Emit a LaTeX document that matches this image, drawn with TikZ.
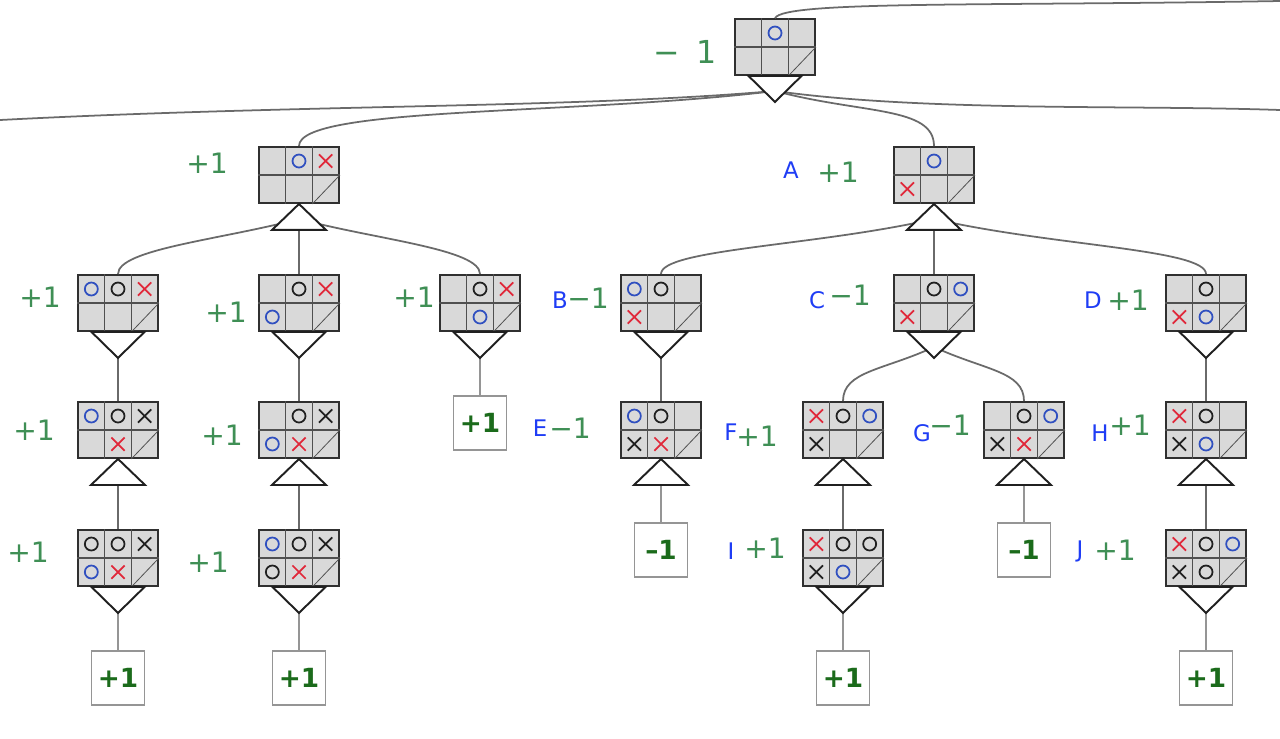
\documentclass[tikz,border=0pt]{standalone}
\usepackage{fontspec}
\setmainfont{DejaVu Sans}
\usetikzlibrary{shapes.misc}

\definecolor{boardgray}{HTML}{D9D9D9}
\definecolor{boardline}{HTML}{303030}
\definecolor{gridline}{HTML}{505050}
\definecolor{edgegray}{HTML}{6A6A6A}
\definecolor{leafgray}{HTML}{959595}
\definecolor{leafgreen}{HTML}{1B6B1B}
\definecolor{handgreen}{HTML}{3F8F55}
\definecolor{tagblue}{HTML}{1F3DF5}
\definecolor{oblue}{HTML}{3050C0}
\definecolor{xred}{HTML}{E0283A}
\definecolor{markblack}{HTML}{202020}

\tikzset{
  board/.style={draw=boardline, fill=boardgray, line width=1.1pt,
    minimum width=1.6cm, minimum height=1.12cm, inner sep=0pt},
  cell/.style={draw=gridline, line width=0.6pt},
  ob/.style={circle, draw=oblue, line width=1pt, minimum size=0.26cm, inner sep=0pt},
  ok/.style={circle, draw=markblack, line width=1pt, minimum size=0.26cm, inner sep=0pt},
  xr/.style={cross out, draw=xred, line width=1pt, minimum size=0.23cm, inner sep=0pt},
  xk/.style={cross out, draw=markblack, line width=1pt, minimum size=0.23cm, inner sep=0pt},
  nomark/.style={inner sep=0pt},
  edge/.style={draw=edgegray, line width=1pt},
  leafedge/.style={draw=leafgray, line width=1pt},
  tri/.style={draw=markblack, fill=white, line width=1.1pt},
  leaf/.style={draw=leafgray, fill=white, line width=1.1pt, minimum width=1.06cm,
    minimum height=1.08cm, inner sep=0pt, text=leafgreen,
    font=\fontsize{15}{15}\selectfont\bfseries},
  val/.style={text=handgreen, font=\fontsize{16}{16}\selectfont},
  tag/.style={text=tagblue, font=\fontsize{13}{13}\selectfont},
}

% board: name, position, top row (3 cells), bottom row (2 cells)
\newcommand{\tttboard}[7]{%
  \node[board] (#1) at (#2) {};
  \draw[cell] ([xshift=-0.2667cm]#1.north) -- ([xshift=-0.2667cm]#1.south)
    ([xshift=0.2667cm]#1.north) -- ([xshift=0.2667cm]#1.south)
    (#1.west) -- (#1.east);
  \draw[cell, line width=0.45pt] ([xshift=0.2667cm]#1.south) -- (#1.east);
  \node[#3] (#1-1) at ([shift={(-0.5333cm,0.28cm)}]#1) {};
  \node[#4] (#1-2) at ([shift={(0cm,0.28cm)}]#1) {};
  \node[#5] (#1-3) at ([shift={(0.5333cm,0.28cm)}]#1) {};
  \node[#6] (#1-4) at ([shift={(-0.5333cm,-0.28cm)}]#1) {};
  \node[#7] (#1-5) at ([shift={(0cm,-0.28cm)}]#1) {};
  \coordinate (#1-v) at ([yshift=-0.3cm]#1.south);
}
\newcommand{\minmark}[1]{\draw[tri] ([xshift=-0.53cm]#1.south) -- ([xshift=0.53cm]#1.south)
  -- ([yshift=-0.52cm]#1.south) -- cycle;}
\newcommand{\maxmark}[1]{\draw[tri] (#1.south) -- ([shift={(0.54cm,-0.52cm)}]#1.south)
  -- ([shift={(-0.54cm,-0.52cm)}]#1.south) -- cycle;}

\begin{document}
\begin{tikzpicture}[x=0.02cm, y=0.02cm]
\fill[white] (0,0) rectangle (1280,-738);
\useasboundingbox (0,0) rectangle (1280,-738);

% boards
\tttboard{root}{775,-47}{nomark}{ob}{nomark}{nomark}{nomark}
\tttboard{n1}{299,-175}{nomark}{ob}{xr}{nomark}{nomark}
\tttboard{A}{934,-175}{nomark}{ob}{nomark}{xr}{nomark}
\tttboard{n11}{118,-303}{ob}{ok}{xr}{nomark}{nomark}
\tttboard{n12}{299,-303}{nomark}{ok}{xr}{ob}{nomark}
\tttboard{n13}{480,-303}{nomark}{ok}{xr}{nomark}{ob}
\tttboard{B}{661,-303}{ob}{ok}{nomark}{xr}{nomark}
\tttboard{C}{934,-303}{nomark}{ok}{ob}{xr}{nomark}
\tttboard{D}{1206,-303}{nomark}{ok}{nomark}{xr}{ob}
\tttboard{n111}{118,-430}{ob}{ok}{xk}{nomark}{xr}
\tttboard{n121}{299,-430}{nomark}{ok}{xk}{ob}{xr}
\tttboard{E}{661,-430}{ob}{ok}{nomark}{xk}{xr}
\tttboard{F}{843,-430}{xr}{ok}{ob}{xk}{nomark}
\tttboard{G}{1024,-430}{nomark}{ok}{ob}{xk}{xr}
\tttboard{H}{1206,-430}{xr}{ok}{nomark}{xk}{ob}
\tttboard{n1111}{118,-558}{ok}{ok}{xk}{ob}{xr}
\tttboard{n1211}{299,-558}{ob}{ok}{xk}{ok}{xr}
\tttboard{I}{843,-558}{xr}{ok}{ok}{xk}{ob}
\tttboard{J}{1206,-558}{xr}{ok}{ob}{xk}{ok}

% leaves
\node[leaf] (t13) at (480,-423) {+1};
\node[leaf] (tE) at (661,-550) {–1};
\node[leaf] (tG) at (1024,-550) {–1};
\node[leaf] (t1111) at (118,-678) {+1};
\node[leaf] (t1211) at (299,-678) {+1};
\node[leaf] (tI) at (843,-678) {+1};
\node[leaf] (tJ) at (1206,-678) {+1};

% off-picture siblings
\coordinate (offL) at (0,-120);
\coordinate (offR) at (1280,-110);
\coordinate (offT) at (1280,-1);

% edges
\draw[edge] (root.north) to[out=60,in=181,out distance=0.4cm,in distance=6cm] (offT);
\draw[edge] (root-v) to[out=185,in=3,out distance=4cm,in distance=6cm] (offL);
\draw[edge] (root-v) to[out=-8,in=178,out distance=3cm,in distance=3cm] (offR);
\draw[edge] (root-v) to[out=187,in=90,out distance=4cm,in distance=0.8cm] (n1.north);
\draw[edge] (root-v) to[out=-15,in=90,out distance=1.8cm,in distance=0.8cm] (A.north);
\draw[edge] (n1-v) to[out=195,in=90,out distance=1.6cm,in distance=0.5cm] (n11.north);
\draw[edge] (n1-v) -- (n12.north);
\draw[edge] (n1-v) to[out=-15,in=90,out distance=1.6cm,in distance=0.5cm] (n13.north);
\draw[edge] (A-v) to[out=193,in=90,out distance=2.4cm,in distance=0.5cm] (B.north);
\draw[edge] (A-v) -- (C.north);
\draw[edge] (A-v) to[out=-13,in=90,out distance=2.4cm,in distance=0.5cm] (D.north);
\draw[edge] (n11-v) -- (n111.north);
\draw[edge] (n12-v) -- (n121.north);
\draw[leafedge] (n13-v) -- (t13.north);
\draw[edge] (B-v) -- (E.north);
\draw[edge] (C-v) to[out=205,in=90,out distance=1.1cm,in distance=0.6cm] (F.north);
\draw[edge] (C-v) to[out=-25,in=90,out distance=1.1cm,in distance=0.6cm] (G.north);
\draw[edge] (D-v) -- (H.north);
\draw[edge] (n111-v) -- (n1111.north);
\draw[edge] (n121-v) -- (n1211.north);
\draw[leafedge] (E-v) -- (tE.north);
\draw[edge] (F-v) -- (I.north);
\draw[leafedge] (G-v) -- (tG.north);
\draw[edge] (H-v) -- (J.north);
\draw[leafedge] (n1111-v) -- (t1111.north);
\draw[leafedge] (n1211-v) -- (t1211.north);
\draw[leafedge] (I-v) -- (tI.north);
\draw[leafedge] (J-v) -- (tJ.north);

% min and max marks
\minmark{root}
\maxmark{n1} \maxmark{A}
\minmark{n11} \minmark{n12} \minmark{n13} \minmark{B} \minmark{C} \minmark{D}
\maxmark{n111} \maxmark{n121} \maxmark{E} \maxmark{F} \maxmark{G} \maxmark{H}
\minmark{n1111} \minmark{n1211} \minmark{I} \minmark{J}

% values written on
\node[val, font=\fontsize{18}{18}\selectfont] (v-root) at (685,-52) {−\hspace{0.5em}1};
\node[val] (v-n1) at (207,-163) {+1};
\node[val] (v-A) at (838,-172) {+1};
\node[val] (v-n11) at (40,-297) {+1};
\node[val] (v-n12) at (226,-312) {+1};
\node[val] (v-n13) at (414,-297) {+1};
\node[val] (v-B) at (588,-298) {−1};
\node[val] (v-C) at (850,-295) {−1};
\node[val] (v-D) at (1128,-300) {+1};
\node[val] (v-n111) at (34,-430) {+1};
\node[val] (v-n121) at (222,-435) {+1};
\node[val] (v-E) at (570,-428) {−1};
\node[val] (v-F) at (757,-436) {+1};
\node[val] (v-G) at (950,-425) {−1};
\node[val] (v-H) at (1130,-425) {+1};
\node[val] (v-n1111) at (28,-552) {+1};
\node[val] (v-n1211) at (208,-562) {+1};
\node[val] (v-I) at (765,-548) {+1};
\node[val] (v-J) at (1115,-550) {+1};

% letters
\node[tag] (l-A) at (791,-170) {A};
\node[tag] (l-B) at (560,-300) {B};
\node[tag] (l-C) at (817,-300) {C};
\node[tag] (l-D) at (1093,-300) {D};
\node[tag] (l-E) at (540,-428) {E};
\node[tag] (l-F) at (731,-432) {F};
\node[tag] (l-G) at (922,-433) {G};
\node[tag] (l-H) at (1100,-433) {H};
\node[tag] (l-I) at (731,-551) {I};
\node[tag] (l-J) at (1080,-551) {J};
\end{tikzpicture}
\end{document}
